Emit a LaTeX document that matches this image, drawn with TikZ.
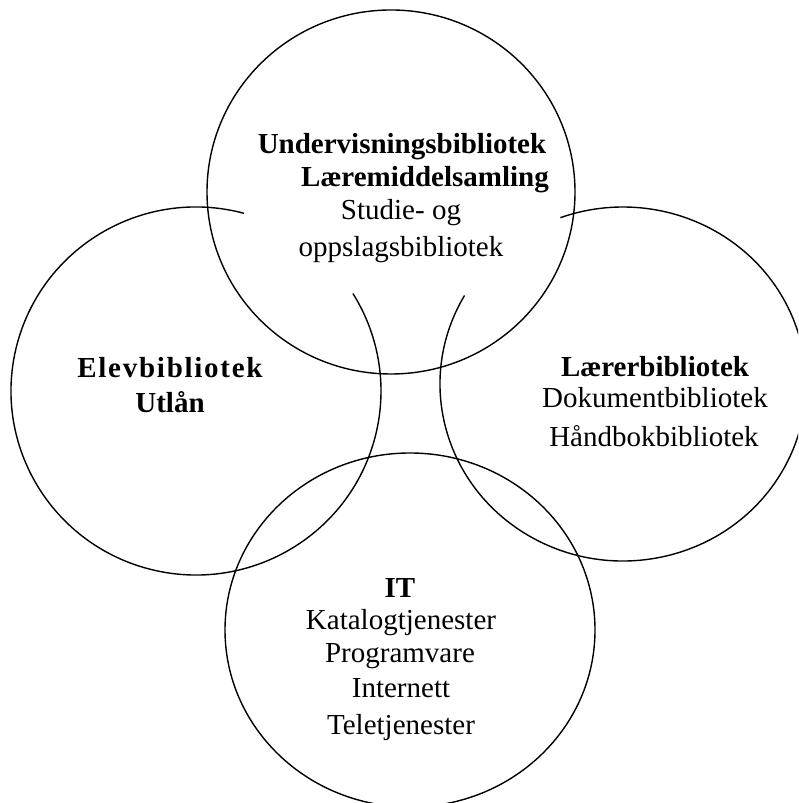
\documentclass[tikz,border=0pt]{standalone}
\usepackage{fontspec}
\setmainfont{Liberation Serif}
\newfontfamily\spacedserif[LetterSpace=6]{Liberation Serif}
\begin{document}
\begin{tikzpicture}[x=1pt,y=1pt,
  ring/.style={draw=black, line width=1.4pt},
  txt/.style={inner sep=0pt, anchor=base, font=\fontsize{29}{35}\selectfont},
  txtb/.style={inner sep=0pt, anchor=base, font=\fontsize{29}{35}\selectfont\bfseries}]
\useasboundingbox (0,0) rectangle (798,803);
\clip (0,0) rectangle (798,803);
% centres
\coordinate (ctop) at (391,611);
\coordinate (cbot) at (410,173);
\coordinate (cleft) at (196,412);
\coordinate (cright) at (623,419);
% circles
\draw[ring] (ctop) ellipse [x radius=184pt, y radius=182pt];
\draw[ring] (cbot) ellipse [x radius=185pt, y radius=177pt];
\draw[ring] (cleft) ++(75:185pt and 184pt) arc[start angle=75, end angle=392, x radius=185pt, y radius=184pt];
\draw[ring] (cright) ++(150:183pt and 177pt) arc[start angle=150, end angle=470, x radius=183pt, y radius=177pt];
% texts top
\node[txtb] (u1) at (402,649) {Undervisningsbibliotek};
\node[txtb] (u2) at (425,616) {Læremiddelsamling};
\node[txt] (u3) at (401,583) {Studie- og};
\node[txt] (u4) at (401,546) {oppslagsbibliotek};
% left
\node[txtb] (e1) at (170,425) {\spacedserif\bfseries Elevbibliotek};
\node[txtb] (e2) at (170,390) {Utlån};
% right
\node[txtb] (l1) at (655,426) {Lærerbibliotek};
\node[txt] (l2) at (655,395) {Dokumentbibliotek};
\node[txt] (l3) at (654,356) {Håndbokbibliotek};
% bottom
\node[txtb] (i1) at (400,205) {IT};
\node[txt] (i2) at (401,173) {Katalogtjenester};
\node[txt] (i3) at (400,140) {Programvare};
\node[txt] (i4) at (401,105) {Internett};
\node[txt] (i5) at (401,68) {Teletjenester};
\end{tikzpicture}
\end{document}
